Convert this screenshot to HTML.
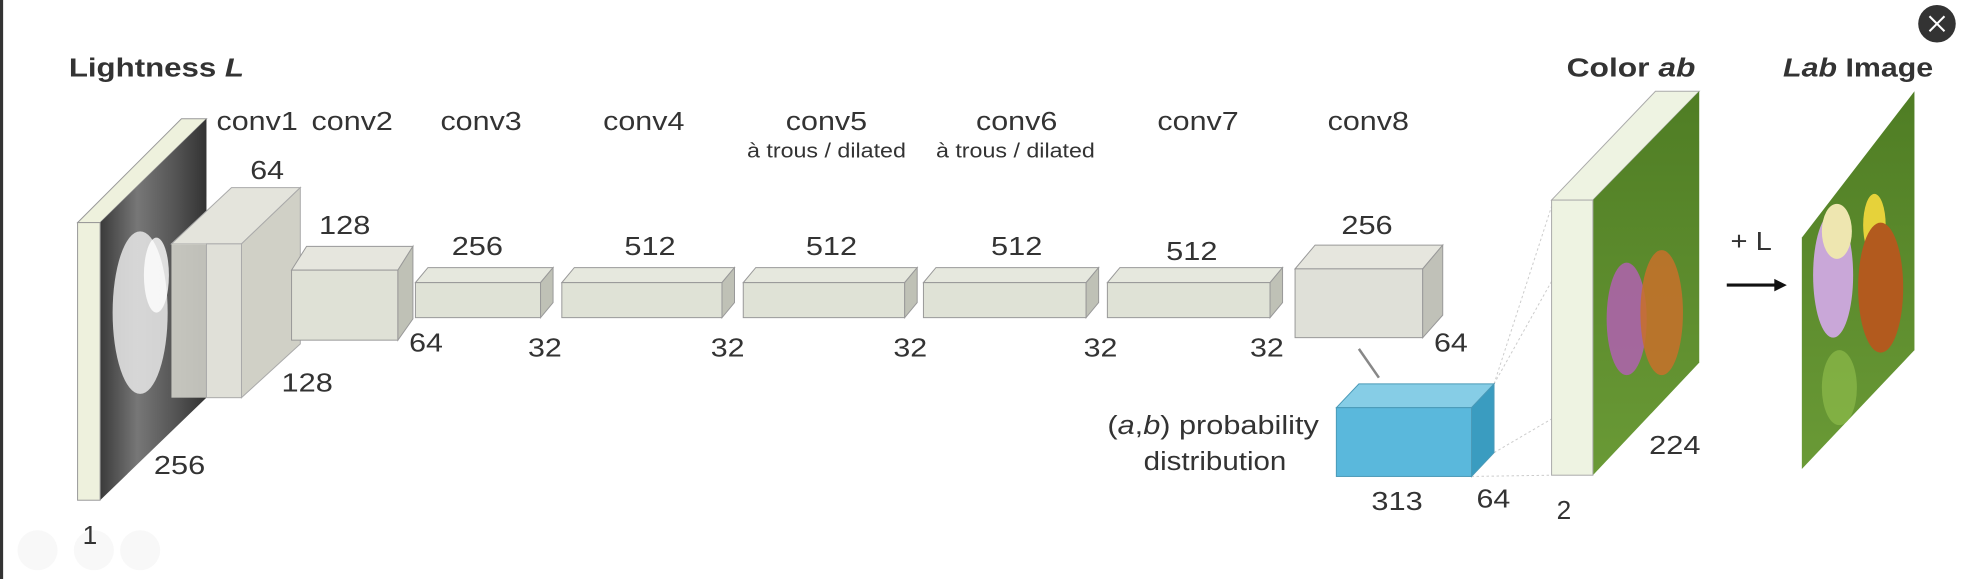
<!DOCTYPE html>
<html><head><meta charset="utf-8"><style>
html,body{margin:0;padding:0;background:#fff;width:1962px;height:579px;overflow:hidden}
svg{display:block}
text{font-family:"Liberation Sans",Arial,sans-serif;fill:#333}
</style></head><body>
<svg width="1962" height="579" viewBox="0 0 1568 463" preserveAspectRatio="none">
<defs>
<linearGradient id="gimg" x1="0" y1="0" x2="1" y2="0">
<stop offset="0" stop-color="#3a3a3a"/><stop offset="0.35" stop-color="#777"/><stop offset="0.7" stop-color="#555"/><stop offset="1" stop-color="#333"/></linearGradient>
<linearGradient id="grn" x1="0" y1="0" x2="0" y2="1"><stop offset="0" stop-color="#4f7d24"/><stop offset="1" stop-color="#6a9a36"/></linearGradient>
</defs>
<rect x="0" y="0" width="2.5" height="463" fill="#333"/>
<circle cx="1548" cy="19" r="15" fill="#333"/>
<path d="M1542 13 L1554 25 M1554 13 L1542 25" stroke="#fff" stroke-width="1.6"/>
<g fill="#f8f8f8"><circle cx="30" cy="440" r="16"/><circle cx="75" cy="440" r="16"/><circle cx="112" cy="440" r="16"/></g>

<text x="55" y="61" font-size="21" font-weight="bold" textLength="140" lengthAdjust="spacingAndGlyphs">Lightness <tspan font-style="italic">L</tspan></text>
<polygon points="62,178 145,95 165,95 80,178" fill="#eef1dd" stroke="#999" stroke-width="0.8"/>
<polygon points="80,178 165,95 165,318 80,400" fill="url(#gimg)"/>
<ellipse cx="112" cy="250" rx="22" ry="65" fill="#e8e8e8" opacity="0.85"/>
<ellipse cx="125" cy="220" rx="10" ry="30" fill="#fff" opacity="0.8"/>
<rect x="62" y="178" width="18" height="222" fill="#eef1dd" stroke="#999" stroke-width="0.8"/>
<polygon points="137,195 185,150 240,150 193,195" fill="#e4e4dc" stroke="#aaa" stroke-width="0.8"/>
<rect x="137" y="195" width="28" height="123" fill="#d8d8d0" opacity="0.85"/>
<rect x="165" y="195" width="28" height="123" fill="#e0e0d8" stroke="#aaa" stroke-width="0.8"/>
<polygon points="193,195 240,150 240,275 193,318" fill="#d0d0c6" stroke="#aaa" stroke-width="0.8"/>
<polygon points="233,216 245,197 330,197 318,216" fill="#e6e6de" stroke="#999" stroke-width="0.8"/>
<rect x="233" y="216" width="85" height="56" fill="#dfe1d6" stroke="#999" stroke-width="0.8"/>
<polygon points="318,216 330,197 330,255 318,272" fill="#bfc1b6" stroke="#999" stroke-width="0.8"/>
<g stroke="#999" stroke-width="0.8">
<polygon points="332,226 342,214 442,214 432,226" fill="#e6e8de"/><rect x="332" y="226" width="100" height="28" fill="#dfe2d6"/><polygon points="432,226 442,214 442,242 432,254" fill="#bfc1b6"/>
<polygon points="449,226 459,214 587,214 577,226" fill="#e6e8de"/><rect x="449" y="226" width="128" height="28" fill="#dfe2d6"/><polygon points="577,226 587,214 587,242 577,254" fill="#bfc1b6"/>
<polygon points="594,226 604,214 733,214 723,226" fill="#e6e8de"/><rect x="594" y="226" width="129" height="28" fill="#dfe2d6"/><polygon points="723,226 733,214 733,242 723,254" fill="#bfc1b6"/>
<polygon points="738,226 748,214 878,214 868,226" fill="#e6e8de"/><rect x="738" y="226" width="130" height="28" fill="#dfe2d6"/><polygon points="868,226 878,214 878,242 868,254" fill="#bfc1b6"/>
<polygon points="885,226 895,214 1025,214 1015,226" fill="#e6e8de"/><rect x="885" y="226" width="130" height="28" fill="#dfe2d6"/><polygon points="1015,226 1025,214 1025,242 1015,254" fill="#bfc1b6"/>
<polygon points="1035,215 1051,196 1153,196 1137,215" fill="#e6e6de"/><rect x="1035" y="215" width="102" height="55" fill="#dfe0d8"/><polygon points="1137,215 1153,196 1153,252 1137,270" fill="#c0c1b8"/>
</g>
<g font-size="21">
<text x="173" y="104" textLength="65" lengthAdjust="spacingAndGlyphs">conv1</text><text x="249" y="104" textLength="65" lengthAdjust="spacingAndGlyphs">conv2</text><text x="352" y="104" textLength="65" lengthAdjust="spacingAndGlyphs">conv3</text><text x="482" y="104" textLength="65" lengthAdjust="spacingAndGlyphs">conv4</text>
<text x="628" y="104" textLength="65" lengthAdjust="spacingAndGlyphs">conv5</text><text x="780" y="104" textLength="65" lengthAdjust="spacingAndGlyphs">conv6</text><text x="925" y="104" textLength="65" lengthAdjust="spacingAndGlyphs">conv7</text><text x="1061" y="104" textLength="65" lengthAdjust="spacingAndGlyphs">conv8</text>
<text x="200" y="143" textLength="27" lengthAdjust="spacingAndGlyphs">64</text><text x="255" y="187" textLength="41" lengthAdjust="spacingAndGlyphs">128</text><text x="361" y="204" textLength="41" lengthAdjust="spacingAndGlyphs">256</text><text x="499" y="204" textLength="41" lengthAdjust="spacingAndGlyphs">512</text>
<text x="644" y="204" textLength="41" lengthAdjust="spacingAndGlyphs">512</text><text x="792" y="204" textLength="41" lengthAdjust="spacingAndGlyphs">512</text><text x="932" y="208" textLength="41" lengthAdjust="spacingAndGlyphs">512</text><text x="1072" y="187" textLength="41" lengthAdjust="spacingAndGlyphs">256</text>
<text x="327" y="281" textLength="27" lengthAdjust="spacingAndGlyphs">64</text><text x="225" y="313" textLength="41" lengthAdjust="spacingAndGlyphs">128</text><text x="123" y="379" textLength="41" lengthAdjust="spacingAndGlyphs">256</text><text x="66" y="435">1</text>
<text x="422" y="285" textLength="27" lengthAdjust="spacingAndGlyphs">32</text><text x="568" y="285" textLength="27" lengthAdjust="spacingAndGlyphs">32</text><text x="714" y="285" textLength="27" lengthAdjust="spacingAndGlyphs">32</text><text x="866" y="285" textLength="27" lengthAdjust="spacingAndGlyphs">32</text><text x="999" y="285" textLength="27" lengthAdjust="spacingAndGlyphs">32</text>
<text x="1146" y="281" textLength="27" lengthAdjust="spacingAndGlyphs">64</text>
</g>
<g font-size="16" fill="#555"><text x="597" y="126" textLength="127" lengthAdjust="spacingAndGlyphs">à trous / dilated</text><text x="748" y="126" textLength="127" lengthAdjust="spacingAndGlyphs">à trous / dilated</text></g>
<line x1="1086" y1="279" x2="1102" y2="302" stroke="#888" stroke-width="2"/>
<g stroke="#ccc" stroke-width="0.8" stroke-dasharray="2,2"><line x1="1194" y1="307" x2="1240" y2="165"/><line x1="1194" y1="307" x2="1240" y2="225"/><line x1="1194" y1="362" x2="1240" y2="335"/><line x1="1176" y1="381" x2="1240" y2="380"/></g>
<polygon points="1068,326 1086,307 1194,307 1176,326" fill="#86cde6" stroke="#4a9ab8" stroke-width="0.8"/>
<rect x="1068" y="326" width="108" height="55" fill="#5ab8dc" stroke="#4a9ab8" stroke-width="0.8"/>
<polygon points="1176,326 1194,307 1194,362 1176,381" fill="#3a9cc0" stroke="#4a9ab8" stroke-width="0.8"/>
<g font-size="21"><text x="885" y="347" textLength="169" lengthAdjust="spacingAndGlyphs">(<tspan font-style="italic">a</tspan>,<tspan font-style="italic">b</tspan>) probability</text><text x="914" y="376" textLength="114" lengthAdjust="spacingAndGlyphs">distribution</text>
<text x="1096" y="408" textLength="41" lengthAdjust="spacingAndGlyphs">313</text><text x="1180" y="406" textLength="27" lengthAdjust="spacingAndGlyphs">64</text><text x="1244" y="415">2</text><text x="1318" y="363" textLength="41" lengthAdjust="spacingAndGlyphs">224</text><text x="1383" y="200" textLength="33" lengthAdjust="spacingAndGlyphs">+ L</text></g>
<text x="1252" y="61" font-size="21" font-weight="bold" textLength="103" lengthAdjust="spacingAndGlyphs">Color <tspan font-style="italic">ab</tspan></text>
<polygon points="1240,160 1323,73 1358,73 1273,160" fill="#eef3e2" stroke="#aaa" stroke-width="0.8"/>
<polygon points="1273,160 1358,73 1358,290 1273,380" fill="url(#grn)"/>
<ellipse cx="1300" cy="255" rx="16" ry="45" fill="#b060b0" opacity="0.85"/>
<ellipse cx="1328" cy="250" rx="17" ry="50" fill="#c8702a" opacity="0.85"/>
<rect x="1240" y="160" width="33" height="220" fill="#eef3e2" stroke="#aaa" stroke-width="0.8"/>
<line x1="1380" y1="228" x2="1420" y2="228" stroke="#111" stroke-width="2.5"/><polygon points="1428,228 1418,223 1418,233" fill="#111"/>
<text x="1425" y="61" font-size="21" font-weight="bold" textLength="120" lengthAdjust="spacingAndGlyphs"><tspan font-style="italic">Lab</tspan> Image</text>
<polygon points="1440,190 1530,73 1530,280 1440,375" fill="url(#grn)"/>
<ellipse cx="1465" cy="220" rx="16" ry="50" fill="#c9a7d8"/>
<ellipse cx="1468" cy="185" rx="12" ry="22" fill="#eee6b0"/>
<ellipse cx="1498" cy="180" rx="9" ry="25" fill="#e6d23a"/>
<ellipse cx="1503" cy="230" rx="18" ry="52" fill="#b25a1e"/>
<ellipse cx="1470" cy="310" rx="14" ry="30" fill="#8dbb4a" opacity="0.7"/>
</svg>
</body></html>
